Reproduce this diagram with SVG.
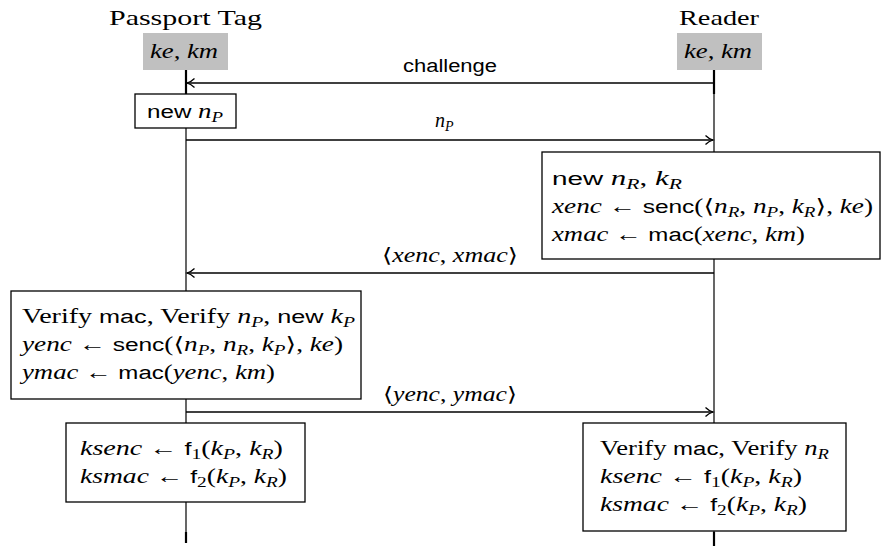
<svg xmlns="http://www.w3.org/2000/svg" width="882" height="546" viewBox="0 0 882 546">
<style>
text{font-family:"Liberation Serif","DejaVu Serif",serif;font-size:20px;fill:#000}
.h{font-size:22px}
.i{font-style:italic}
.s{font-family:"Liberation Sans","DejaVu Sans",sans-serif;font-size:18px;font-style:normal}
.sb{font-style:italic;font-size:14px}
.n1{font-size:14px}
.box{fill:#fff;stroke:#000;stroke-width:1.3}
.key{fill:#c0c0c0;stroke:none}
.life{stroke:#000;stroke-width:1.2;fill:none}
.thick{stroke:#000;stroke-width:2.2;fill:none}
.msg{stroke:#000;stroke-width:1.3;fill:none;marker-end:url(#ah)}
</style>
<defs>
<marker id="ah" markerUnits="userSpaceOnUse" markerWidth="12" markerHeight="12" viewBox="-9 -6 10 12" refX="0" refY="0" orient="auto">
<path d="M-7.5,-4.5 C-5,-2 -2,-0.6 0,0 C-2,0.6 -5,2 -7.5,4.5" fill="none" stroke="#000" stroke-width="1.3"/>
</marker>
</defs>
<g id="connectors">
<line class="life" x1="186" y1="70" x2="186" y2="543"/>
<line class="life" x1="714" y1="70" x2="714" y2="546"/>
<line class="thick" x1="186" y1="70" x2="186" y2="94"/>
<line class="thick" x1="714" y1="70" x2="714" y2="94"/>
<line class="thick" x1="186" y1="532" x2="186" y2="543"/>
<line class="thick" x1="714" y1="532" x2="714" y2="546"/>
<line class="msg" x1="714" y1="83" x2="187" y2="83"/>
<line class="msg" x1="186" y1="140" x2="713" y2="140"/>
<line class="msg" x1="714" y1="273" x2="187" y2="273"/>
<line class="msg" x1="186" y1="412" x2="713" y2="412"/>
<text class="s" x="403" y="72" textLength="94" lengthAdjust="spacingAndGlyphs">challenge</text>
<text x="435" y="127"><tspan class="i">n</tspan><tspan class="sb" dy="4">P</tspan></text>
<text x="382" y="262" textLength="136" lengthAdjust="spacingAndGlyphs">⟨<tspan class="i">xenc</tspan>, <tspan class="i">xmac</tspan>⟩</text>
<text x="383" y="401" textLength="134" lengthAdjust="spacingAndGlyphs">⟨<tspan class="i">yenc</tspan>, <tspan class="i">ymac</tspan>⟩</text>
</g>
<g id="passport">
<text class="h" x="109" y="25" textLength="153" lengthAdjust="spacingAndGlyphs">Passport Tag</text>
<rect class="key" x="143" y="33" width="85" height="37"/>
<text class="i" x="150" y="58" textLength="68" lengthAdjust="spacingAndGlyphs">ke, km</text>
</g>
<g id="reader">
<text class="h" x="679" y="25" textLength="80" lengthAdjust="spacingAndGlyphs">Reader</text>
<rect class="key" x="677" y="33" width="85" height="37"/>
<text class="i" x="684" y="58" textLength="68" lengthAdjust="spacingAndGlyphs">ke, km</text>
</g>
<g id="newNP">
<rect class="box" x="135" y="94" width="101" height="34"/>
<text x="147" y="118" textLength="76" lengthAdjust="spacingAndGlyphs"><tspan class="s">new</tspan> <tspan class="i">n</tspan><tspan class="sb" dy="4">P</tspan></text>
</g>
<g id="readerCompute">
<rect class="box" x="542" y="152" width="338" height="107"/>
<text x="552" y="185" textLength="130" lengthAdjust="spacingAndGlyphs"><tspan class="s">new</tspan> <tspan class="i">n</tspan><tspan class="sb" dy="4">R</tspan><tspan dy="-4">, </tspan><tspan class="i">k</tspan><tspan class="sb" dy="4">R</tspan></text>
<text x="552" y="213" textLength="321" lengthAdjust="spacingAndGlyphs"><tspan class="i">xenc</tspan> ← <tspan class="s">senc</tspan>(⟨<tspan class="i">n</tspan><tspan class="sb" dy="4">R</tspan><tspan dy="-4">, </tspan><tspan class="i">n</tspan><tspan class="sb" dy="4">P</tspan><tspan dy="-4">, </tspan><tspan class="i">k</tspan><tspan class="sb" dy="4">R</tspan><tspan dy="-4">⟩, </tspan><tspan class="i">ke</tspan>)</text>
<text x="552" y="241" textLength="253" lengthAdjust="spacingAndGlyphs"><tspan class="i">xmac</tspan> ← <tspan class="s">mac</tspan>(<tspan class="i">xenc</tspan>, <tspan class="i">km</tspan>)</text>
</g>
<g id="passportCompute">
<rect class="box" x="11" y="291" width="350" height="108"/>
<text x="22" y="323" textLength="333" lengthAdjust="spacingAndGlyphs">Verify <tspan class="s">mac</tspan>, Verify <tspan class="i">n</tspan><tspan class="sb" dy="4">P</tspan><tspan dy="-4">, </tspan><tspan class="s">new</tspan> <tspan class="i">k</tspan><tspan class="sb" dy="4">P</tspan></text>
<text x="22" y="351" textLength="321" lengthAdjust="spacingAndGlyphs"><tspan class="i">yenc</tspan> ← <tspan class="s">senc</tspan>(⟨<tspan class="i">n</tspan><tspan class="sb" dy="4">P</tspan><tspan dy="-4">, </tspan><tspan class="i">n</tspan><tspan class="sb" dy="4">R</tspan><tspan dy="-4">, </tspan><tspan class="i">k</tspan><tspan class="sb" dy="4">P</tspan><tspan dy="-4">⟩, </tspan><tspan class="i">ke</tspan>)</text>
<text x="22" y="379" textLength="253" lengthAdjust="spacingAndGlyphs"><tspan class="i">ymac</tspan> ← <tspan class="s">mac</tspan>(<tspan class="i">yenc</tspan>, <tspan class="i">km</tspan>)</text>
</g>
<g id="passportKeys">
<rect class="box" x="66" y="423" width="239" height="79"/>
<text x="80" y="455" textLength="203" lengthAdjust="spacingAndGlyphs"><tspan class="i">ksenc</tspan> ← <tspan class="s">f</tspan><tspan class="n1" dy="4">1</tspan><tspan dy="-4">(</tspan><tspan class="i">k</tspan><tspan class="sb" dy="4">P</tspan><tspan dy="-4">, </tspan><tspan class="i">k</tspan><tspan class="sb" dy="4">R</tspan><tspan dy="-4">)</tspan></text>
<text x="80" y="483" textLength="207" lengthAdjust="spacingAndGlyphs"><tspan class="i">ksmac</tspan> ← <tspan class="s">f</tspan><tspan class="n1" dy="4">2</tspan><tspan dy="-4">(</tspan><tspan class="i">k</tspan><tspan class="sb" dy="4">P</tspan><tspan dy="-4">, </tspan><tspan class="i">k</tspan><tspan class="sb" dy="4">R</tspan><tspan dy="-4">)</tspan></text>
</g>
<g id="readerKeys">
<rect class="box" x="583" y="423" width="263" height="108"/>
<text x="600" y="455" textLength="229" lengthAdjust="spacingAndGlyphs">Verify <tspan class="s">mac</tspan>, Verify <tspan class="i">n</tspan><tspan class="sb" dy="4">R</tspan></text>
<text x="600" y="483" textLength="202" lengthAdjust="spacingAndGlyphs"><tspan class="i">ksenc</tspan> ← <tspan class="s">f</tspan><tspan class="n1" dy="4">1</tspan><tspan dy="-4">(</tspan><tspan class="i">k</tspan><tspan class="sb" dy="4">P</tspan><tspan dy="-4">, </tspan><tspan class="i">k</tspan><tspan class="sb" dy="4">R</tspan><tspan dy="-4">)</tspan></text>
<text x="600" y="511" textLength="207" lengthAdjust="spacingAndGlyphs"><tspan class="i">ksmac</tspan> ← <tspan class="s">f</tspan><tspan class="n1" dy="4">2</tspan><tspan dy="-4">(</tspan><tspan class="i">k</tspan><tspan class="sb" dy="4">P</tspan><tspan dy="-4">, </tspan><tspan class="i">k</tspan><tspan class="sb" dy="4">R</tspan><tspan dy="-4">)</tspan></text>
</g>
</svg>
